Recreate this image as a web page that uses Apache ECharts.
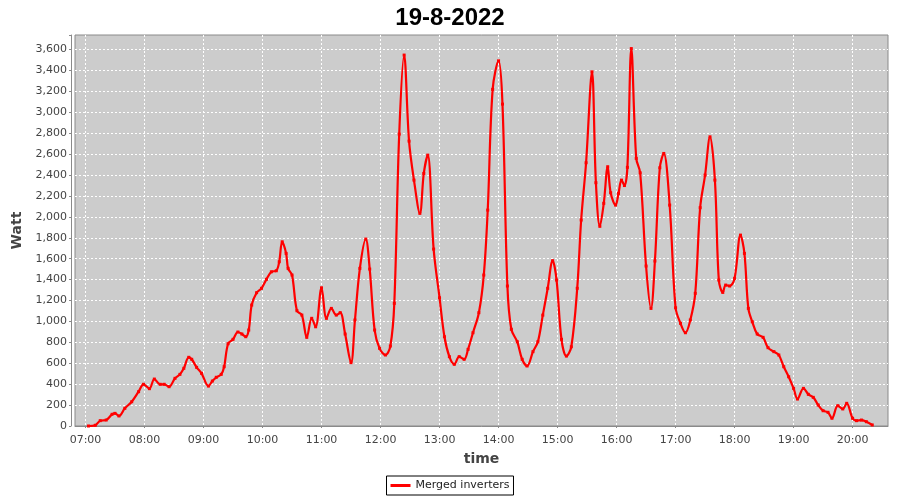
<!DOCTYPE html>
<html>
<head>
<meta charset="utf-8">
<script src="https://cdn.jsdelivr.net/npm/echarts@6/dist/echarts.min.js"></script>
<style>
  html, body { margin: 0; padding: 0; background: #fff; }
  #chart { width: 900px; height: 500px; }
</style>
</head>
<body>
<div id="chart"></div>
<script>
// readings of the merged inverters, 19-8-2022
const times = [
  "07:03", "07:10", "07:15", "07:21", "07:27", "07:30", "07:34", "07:40", "07:47", "07:54",
  "07:59", "08:05", "08:10", "08:16", "08:20", "08:25", "08:31", "08:36", "08:40", "08:45",
  "08:48", "08:53", "08:58", "09:05", "09:09", "09:13", "09:18", "09:21", "09:25", "09:30",
  "09:35", "09:39", "09:43", "09:46", "09:49", "09:54", "09:59", "10:04", "10:09", "10:14",
  "10:17", "10:20", "10:24", "10:26", "10:30", "10:35", "10:40", "10:45", "10:50", "10:54",
  "11:00", "11:05", "11:10", "11:15", "11:19", "11:24", "11:30", "11:34", "11:39", "11:45",
  "11:49", "11:54", "11:59", "12:05", "12:10", "12:14", "12:19", "12:24", "12:29", "12:34",
  "12:40", "12:44", "12:48", "12:54", "13:00", "13:05", "13:10", "13:15", "13:20", "13:25",
  "13:29", "13:34", "13:40", "13:45", "13:49", "13:54", "14:00", "14:04", "14:09", "14:13",
  "14:19", "14:24", "14:29", "14:35", "14:40", "14:45", "14:50", "14:55", "14:59", "15:04",
  "15:09", "15:14", "15:20", "15:24", "15:29", "15:35", "15:39", "15:43", "15:47", "15:51",
  "15:54", "15:59", "16:02", "16:05", "16:08", "16:11", "16:15", "16:20", "16:24", "16:30",
  "16:35", "16:39", "16:44", "16:48", "16:54", "17:00", "17:05", "17:10", "17:15", "17:20",
  "17:25", "17:30", "17:35", "17:40", "17:44", "17:48", "17:51", "17:55", "18:00", "18:06",
  "18:10", "18:14", "18:18", "18:23", "18:29", "18:34", "18:40", "18:45", "18:50", "18:55",
  "19:00", "19:04", "19:10", "19:15", "19:20", "19:25", "19:30", "19:35", "19:39", "19:45",
  "19:50", "19:54", "20:00", "20:04", "20:09", "20:14", "20:20"
];
const watts = [
  0, 7, 51, 57, 112, 121, 96, 169, 232, 328,
  399, 357, 449, 399, 399, 376, 456, 494, 552, 657,
  638, 561, 504, 382, 430, 466, 494, 567, 787, 829,
  899, 880, 854, 918, 1157, 1275, 1317, 1403, 1475, 1485,
  1571, 1762, 1651, 1508, 1444, 1103, 1061, 848, 1030, 949,
  1322, 1030, 1125, 1061, 1084, 880, 606, 1014, 1508, 1788,
  1501, 918, 743, 679, 765, 1173, 2792, 3548, 2725, 2352,
  2034, 2416, 2591, 1692, 1227, 854, 663, 590, 663, 638,
  733, 892, 1084, 1444, 2065, 3220, 3493, 3079, 1339, 925,
  806, 638, 574, 711, 806, 1061, 1317, 1581, 1396, 829,
  669, 758, 1317, 1970, 2518, 3388, 2327, 1910, 2130, 2480,
  2231, 2113, 2225, 2352, 2300, 2474, 3610, 2560, 2422, 1530,
  1125, 1578, 2470, 2607, 2113, 1131, 982, 892, 1014, 1269,
  2088, 2400, 2766, 2352, 1396, 1278, 1348, 1339, 1412, 1826,
  1651, 1125, 997, 880, 848, 749, 711, 679, 567, 471,
  360, 258, 360, 303, 274, 201, 146, 131, 74, 194,
  163, 217, 74, 51, 57, 41, 10
];

function toDate(hhmm) {
  const p = hhmm.split(":");
  return new Date(2022, 7, 19, +p[0], +p[1]).getTime();
}
function pad(n) {
  return n < 10 ? "0" + n : "" + n;
}

const chart = echarts.init(document.getElementById("chart"));
const font = "DejaVu Sans";

chart.setOption({
  animation: false,
  title: {
    text: "19-8-2022",
    left: "center",
    top: 1,
    textStyle: { fontFamily: "Liberation Sans", fontSize: 24, fontWeight: "bold", color: "#000" }
  },
  legend: {
    data: [{ name: "Merged inverters", icon: "path://M0,0 H20 V3 H0 Z" }],
    left: "center",
    top: 476,
    backgroundColor: "#fff",
    borderColor: "#000",
    borderWidth: 1,
    borderRadius: 0,
    padding: [4, 4],
    itemWidth: 20,
    itemHeight: 3,
    itemGap: 4,
    textStyle: { fontFamily: font, fontSize: 11, color: "#222", padding: [0, 0, 0, 0] }
  },
  grid: {
    left: 75,
    right: 12,
    top: 35,
    bottom: 74,
    show: true,
    backgroundColor: "#cccccc",
    borderColor: "#8a8a8a",
    borderWidth: 1
  },
  xAxis: {
    type: "time",
    min: toDate("06:49") + 20000,
    max: toDate("20:36"),
    minInterval: 3600 * 1000,
    maxInterval: 3600 * 1000,
    offset: 4,
    name: "time",
    nameLocation: "middle",
    nameGap: 22,
    nameTextStyle: { fontFamily: font, fontSize: 14, fontWeight: "bold", color: "#444" },
    axisLine: { show: true, lineStyle: { color: "#8a8a8a" } },
    axisTick: { show: true, length: 2, lineStyle: { color: "#8a8a8a" } },
    axisLabel: {
      fontFamily: font,
      fontSize: 11,
      color: "#444",
      margin: 5,
      showMinLabel: false,
      showMaxLabel: false,
      hideOverlap: false,
      formatter: function (v) {
        const d = new Date(v);
        return pad(d.getHours()) + ":" + pad(d.getMinutes());
      }
    },
    splitLine: {
      show: true,
      showMinLine: false,
      showMaxLine: false,
      lineStyle: { color: "#ffffff", type: [2, 2], width: 1 }
    }
  },
  yAxis: {
    type: "value",
    min: 0,
    max: 3740,
    interval: 200,
    offset: 4,
    name: "Watt",
    nameLocation: "middle",
    nameGap: 44,
    nameTextStyle: { fontFamily: font, fontSize: 14, fontWeight: "bold", color: "#444" },
    axisLine: { show: true, lineStyle: { color: "#8a8a8a" } },
    axisTick: { show: true, length: 2, lineStyle: { color: "#8a8a8a" } },
    axisLabel: {
      fontFamily: font,
      fontSize: 11,
      color: "#444",
      margin: 4,
      formatter: function (v) {
        if (v % 200 !== 0) return "";
        return v.toString().replace(/\B(?=(\d{3})+(?!\d))/g, ",");
      }
    },
    splitLine: {
      show: true,
      showMaxLine: false,
      lineStyle: { color: "#ffffff", type: [2, 2], width: 1 }
    }
  },
  series: [
    {
      name: "Merged inverters",
      type: "line",
      data: times.map((t, i) => [toDate(t), watts[i]]),
      smooth: 0.35,
      symbol: "rect",
      symbolSize: 3,
      showSymbol: true,
      color: "#ff0000",
      lineStyle: { color: "#ff0000", width: 2.2 },
      itemStyle: { color: "#ff0000" }
    }
  ]
});

window.addEventListener("resize", function () {
  chart.resize();
});
</script>
</body>
</html>
